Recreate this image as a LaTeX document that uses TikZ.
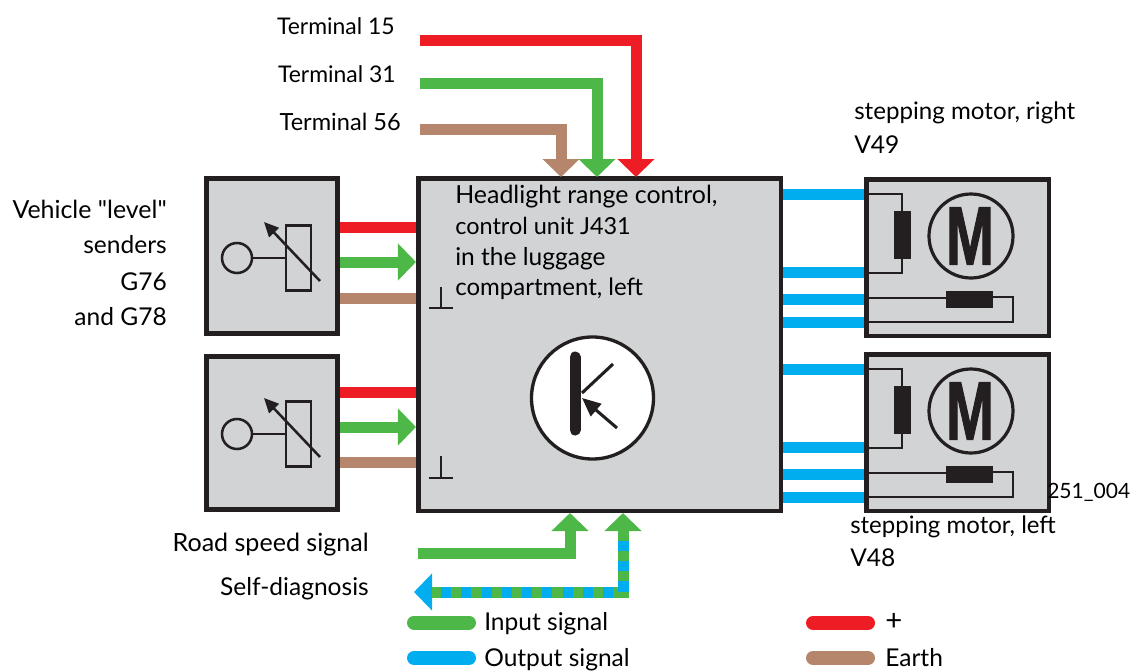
\documentclass[tikz,border=0pt]{standalone}
\usepackage{fontspec}
\setmainfont{Lato}
\newfontfamily\plainq{Lato}
\newfontfamily\boldM[FakeBold=1.5]{Liberation Sans}
\usetikzlibrary{arrows.meta}
\definecolor{cred}{HTML}{EE1C25}
\definecolor{cgreen}{HTML}{4DB848}
\definecolor{cbrown}{HTML}{B5866B}
\definecolor{cblue}{HTML}{00AEEF}
\definecolor{cgray}{HTML}{D1D3D4}
\definecolor{cblack}{HTML}{231F20}
\tikzset{
  x=0.75pt,y=-0.75pt,
  box/.style={draw=cblack,fill=cgray,line width=3.4pt,inner sep=0pt},
  bar/.style={line width=8.25pt},
  tipped/.style={-{Triangle[length=13.5pt,width=27pt]}},
  thin wire/.style={draw=cblack,line width=1.3pt},
  sym/.style={draw=cblack,line width=1.9pt},
  res/.style={draw=cblack,fill=cblack,inner sep=0pt},
  txt/.style={font=\fontsize{18.4}{18.4}\selectfont,text=black,inner sep=0pt},
  fs/.style={font=\fontsize{#1}{#1}\selectfont},
  lr/.style={txt,anchor=base east},
  ll/.style={txt,anchor=base west},
  legend/.style={line width=10.5pt,line cap=round},
}
\newcommand{\sensoricon}[1]{%
  \node[sym,fill=none,circle,minimum size=22.5pt,inner sep=0pt] (#1c) at (237,258) {};
  \node[sym,fill=none,minimum width=18.5pt,minimum height=48.5pt,inner sep=0pt] (#1r) at (298.5,258) {};
  \draw[sym] (#1c) -- (#1r.west);
  \draw[sym,-{Triangle[length=11pt,width=10pt]}] (320,281) -- (264,222);
}
\newcommand{\motoricon}[1]{%
  \node[sym,line width=2.4pt,fill=none,circle,minimum size=63pt,inner sep=0pt] (#1c) at (971,236) {};
  \node[inner sep=0pt,text=cblack,transform shape,xscale=0.7,font=\boldM\bfseries\fontsize{62}{62}\selectfont] (#1t) at (970,236) {M};
  \node[res,minimum width=12pt,minimum height=35pt] (#1a) at (902,234.5) {};
  \node[res,minimum width=34.5pt,minimum height=12pt] (#1b) at (969,299) {};
  \coordinate (#1w1) at (868,194); \coordinate (#1w2) at (868,273);
  \coordinate (#1w3) at (868,298); \coordinate (#1w4) at (868,322);
  \draw[thin wire] (#1w1) -| (#1a.north);
  \draw[thin wire] (#1w2) -| (#1a.south);
  \draw[thin wire] (#1w3) -- (#1b.west |- #1w3);
  \draw[thin wire] (#1b.east |- 0,297) -- (1013,297) |- (#1w4);
}
\begin{document}
\begin{tikzpicture}
\path[use as bounding box] (0,0) rectangle (1136,671);
% boxes
\node[box,minimum width=98.6pt,minimum height=116.6pt] (s1) at (272,256) {};
\node[box,minimum width=98.6pt,minimum height=115.1pt] (s2) at (272,433) {};
\node[box,minimum width=271.9pt,minimum height=249.4pt] (main) at (599.5,344.5) {};
\node[box,minimum width=136.9pt,minimum height=117.4pt] (m1) at (957.5,257.5) {};
\node[box,minimum width=136.9pt,minimum height=117.4pt] (m2) at (957.5,432.5) {};
% icons
\sensoricon{a}
\begin{scope}[shift={(0,176)}]\sensoricon{b}\end{scope}
\motoricon{c}
\begin{scope}[shift={(0,175)}]\motoricon{d}\end{scope}
% top connectors
\coordinate (t15) at (420,40.5); \coordinate (t31) at (420,83); \coordinate (t56) at (420,129);
\draw[bar,cred,tipped] (t15) -| (636,177);
\draw[bar,cgreen,tipped] (t31) -| (597,177);
\draw[bar,cbrown,tipped] (t56) -| (561,177);
% sensor connectors
\foreach \s/\yr/\yg/\yb in {s1/227/262/298,s2/392/427/462}{
  \draw[bar,cred] (\s.east |- 0,\yr) -- (main.west |- 0,\yr);
  \draw[bar,cgreen,tipped] (\s.east |- 0,\yg) -- (main.west |- 0,\yg);
  \draw[bar,cbrown] (\s.east |- 0,\yb) -- (main.west |- 0,\yb);
}
% motor connectors
\foreach \m/\ya/\yb/\yc/\yd in {m1/194/272.5/299/322.5,m2/369/447.5/474/497.5}{
  \foreach \y in {\ya,\yb,\yc,\yd}
    \draw[bar,cblue] (main.east |- 0,\y) -- (\m.west |- 0,\y);
}
% earth symbols
\coordinate (g1) at (441,287); \coordinate (g2) at (441,456);
\draw[sym,line width=1.5pt] (g1) -- ++(0,21) ++(-12,0) -- ++(24,0);
\draw[sym,line width=1.5pt] (g2) -- ++(0,22) ++(-12,0) -- ++(24,0);
% controller symbol
\node[draw=cblack,fill=white,line width=2.5pt,circle,minimum size=91.5pt,inner sep=0pt] (k) at (592.5,398) {};
\draw[cblack,line width=8.25pt,line cap=round] (575,357) -- (575,430);
\draw[cblack,line width=2.3pt] (582,393) -- (613,364);
\draw[cblack,line width=2.3pt,-{Triangle[length=14pt,width=12pt]}] (617,428) -- (582,398);
% bottom connectors
\coordinate (rs) at (418,553); \coordinate (sd) at (623,592); \coordinate (sdl) at (432,592); \coordinate (sdt) at (414,592);
\draw[bar,cgreen,tipped] (rs) -| (570,513);
\draw[bar,cblue,tipped] (sdl) -- (sdt);
\draw[bar,cgreen,tipped] (sdl) -| (623,513);
\draw[bar,cblue,dash pattern=on 7.6pt off 7.6pt,dash phase=-6.75pt] (sdl) -- (sd) -- (623,533);
% legend
\draw[legend,cgreen] (414,622.5) -- (469,622.5);
\draw[legend,cblue] (414,658) -- (469,658);
\draw[legend,cred] (813,623) -- (868,623);
\draw[legend,cbrown] (813,658) -- (868,658);
% labels
\node[lr,fs=17.2] (l15) at (395,34) {Terminal 15};
\node[lr,fs=17.2] (l31) at (396,82) {Terminal 31};
\node[lr,fs=17.7] (l56) at (401,130) {Terminal 56};
\node[ll,fs=18.7] (h1) at (455,203) {Headlight range control,};
\node[ll,fs=17.6] (h2) at (455,234) {control unit J431};
\node[ll] (h3) at (455,265) {in the luggage};
\node[ll,fs=18] (h4) at (455,295) {compartment, left};
\node[lr,fs=18.7] (v1) at (167,218) {Vehicle {\plainq"}level{\plainq"}};
\node[lr] (v2) at (167,253) {senders};
\node[lr] (v3) at (167,290) {G76};
\node[lr] (v4) at (167,325) {and G78};
\node[ll,fs=18.1] (r1) at (854,119) {stepping motor, right};
\node[ll] (r2) at (854,153) {V49};
\node[ll,fs=18] (q1) at (850,533) {stepping motor, left};
\node[ll] (q2) at (850,566) {V48};
\node[ll,fs=15.8] (code) at (1047,498) {251\_004};
\node[lr,fs=18.8] (rsl) at (369,551) {Road speed signal};
\node[lr] (sdg) at (369,595) {Self-diagnosis};
\node[ll] (li) at (484,630) {Input signal};
\node[ll] (lo) at (484,666) {Output signal};
\node[ll,fs=22] (lp) at (885,630) {+};
\node[ll] (le) at (885,666) {Earth};
\end{tikzpicture}
\end{document}
